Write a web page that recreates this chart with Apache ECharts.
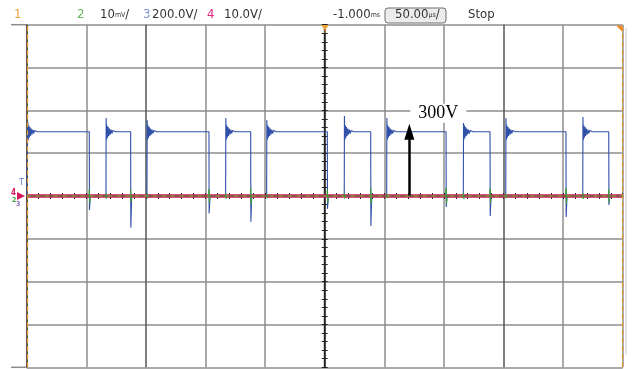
<!DOCTYPE html>
<html>
<head>
<meta charset="utf-8">
<script src="https://cdn.jsdelivr.net/npm/echarts@6/dist/echarts.min.js"></script>
<style>
  html, body { margin: 0; padding: 0; background: #fff; }
  #scope { width: 632px; height: 369px; }
</style>
</head>
<body>
<div id="scope"></div>
<script>
// Time base: 50 us/div over 10 divisions, centred on the trigger point.
const timeMin = -250, timeMax = 250, timeStep = 50;
// Vertical scale in channel-3 volts: 200 V/div over 8 divisions.
const voltMin = -800, voltMax = 800, voltStep = 200;

// Channel 3 (blue): switching voltage pulses.
const ch3High = 300;
const ch3RiseTimes = [-249.2, -183.5, -149.1, -83.1, -48.7, 16.4, 52.0, 116.3, 151.9, 216.5];
const ch3RisePeaks = [347, 364, 355, 364, 355, 374, 364, 341, 364, 369];
const ch3FallTimes = [-197.5, -162.8, -97.1, -62.1, 2.2, 38.6, 101.8, 138.7, 202.4, 238.3];
const ch3FallDips = [-65, -148, -82, -120, -60, -140, -51, -93, -98, -42];
// Ringing after each rising edge (delay in us, level in V).
const ringDelays = [0.5, 0.9, 1.4, 1.9, 2.4, 3.0, 3.6, 4.3, 5.0, 5.8, 6.8, 8.0];
const ringLevels = [262, 330, 272, 322, 280, 315, 287, 310, 292, 306, 297, 300];

// Channel 2 (green): small spikes at the switching edges.
const ch2SpikeTimes = [-197.5, -183.5, -162.8, -149.1, -97.1, -83.1, -62.1, -48.7, 2.2, 16.4,
                       38.6, 52.0, 101.8, 116.3, 138.7, 151.9, 202.4, 216.5, 238.3];
const ch2SpikeHeights = [30, 12, 28, 10, 32, 12, 38, 10, 30, 12,
                         34, 10, 36, 14, 34, 10, 36, 14, 30];

// Channels 1 and 4: flat traces on the centre line.
const ch4Times = [-250, 250];
const ch4Values = [0, 0];
const ch1Times = [-250, 250];
const ch1Values = [0, 0];

// Annotation arrow: amplitude of the pulses.
const arrowTime = 71;
const arrowVolts = 300;

// Header labels.
const headerItems = [
  { text: '1', x: 14, color: '#e9a53e' },
  { text: '2', x: 77, color: '#5fb85a' },
  { text: '10{u|mV}/', x: 100, color: '#333' },
  { text: '3', x: 143, color: '#8494d2' },
  { text: '200.0V/', x: 152, color: '#333' },
  { text: '4', x: 207, color: '#e0287c' },
  { text: '10.0V/', x: 224, color: '#333' },
  { text: '-1.000{u|ms}', x: 333, color: '#333' },
  { text: '50.00{u|\u00b5s}/', x: 395, color: '#333' },
  { text: 'Stop', x: 468, color: '#333' }
];

function buildCh3() {
  const pts = [[timeMin, 0]];
  for (let i = 0; i < ch3RiseTimes.length; i++) {
    const tr = ch3RiseTimes[i];
    pts.push([tr, 0], [tr + 0.15, ch3RisePeaks[i]]);
    for (let j = 0; j < ringDelays.length; j++) {
      pts.push([tr + ringDelays[j], ringLevels[j]]);
    }
    const tf = ch3FallTimes[i];
    pts.push([tf, ch3High], [tf + 0.15, ch3FallDips[i]], [tf + 0.9, 0]);
  }
  pts.push([timeMax, 0]);
  return pts;
}

function buildCh2() {
  const pts = [[timeMin, 0]];
  for (let i = 0; i < ch2SpikeTimes.length; i++) {
    const t = ch2SpikeTimes[i], h = ch2SpikeHeights[i];
    pts.push([t - 0.3, 0], [t, h], [t + 0.4, -h], [t + 0.8, 0]);
  }
  pts.push([timeMax, 0]);
  return pts;
}

const pair = (xs, ys) => xs.map((x, i) => [x, ys[i]]);

const gridGray = '#8e8e8e';
const narrowFont = "'Liberation Sans Narrow', 'Arial Narrow', 'DejaVu Sans Condensed', sans-serif";

const chart = echarts.init(document.getElementById('scope'), null, { renderer: 'canvas' });

const centreTicks = {
  axisLine: { onZero: true, lineStyle: { color: '#222', width: 1.2 } },
  axisTick: { show: true, length: 3, lineStyle: { color: '#222', width: 1 } },
  minorTick: { show: true, splitNumber: 5, length: 3, lineStyle: { color: '#222', width: 1 } },
  axisLabel: { show: false }
};

chart.setOption({
  animation: false,
  backgroundColor: '#fff',
  grid: { left: 26.7, right: 9.3, top: 24.7, bottom: 1.7, outerBoundsMode: 'none' },
  xAxis: [
    Object.assign({
      type: 'value', min: timeMin, max: timeMax, interval: timeStep, position: 'bottom',
      splitLine: { show: true, lineStyle: { width: 1.5, color: [
        '#222', gridGray, '#555', gridGray, gridGray, '#222', gridGray, gridGray, '#555', gridGray, gridGray
      ] } }
    }, centreTicks),
    Object.assign({
      type: 'value', min: timeMin, max: timeMax, interval: timeStep, position: 'top',
      splitLine: { show: false }
    }, centreTicks)
  ],
  yAxis: [
    Object.assign({
      type: 'value', min: voltMin, max: voltMax, interval: voltStep, position: 'left',
      splitLine: { show: true, lineStyle: { width: 1.5, color: gridGray } }
    }, centreTicks),
    Object.assign({
      type: 'value', min: voltMin, max: voltMax, interval: voltStep, position: 'right',
      splitLine: { show: false }
    }, centreTicks)
  ],
  series: [
    {
      name: 'CH3', type: 'line', xAxisIndex: 0, yAxisIndex: 0, showSymbol: false, z: 3,
      data: buildCh3(),
      lineStyle: { color: '#3151a8', width: 1.1 }
    },
    {
      name: 'CH4', type: 'line', xAxisIndex: 0, yAxisIndex: 0, showSymbol: false, z: 4,
      data: pair(ch4Times, ch4Values),
      lineStyle: { color: '#d0125a', width: 3.5 },
      markLine: {
        silent: true, z: 6,
        symbol: ['none', 'triangle'], symbolSize: [10, 16], symbolOffset: [0, 0],
        lineStyle: { color: '#000', width: 2.5, type: 'solid' },
        label: {
          show: true, position: 'end', formatter: () => arrowVolts + 'V',
          fontFamily: "'Liberation Serif', 'Times New Roman', serif", fontSize: 18, color: '#000',
          backgroundColor: '#fff', padding: [1, 8, 0, 8], offset: [29, -4]
        },
        data: [[{ coord: [arrowTime, 0] }, { coord: [arrowTime, arrowVolts] }]]
      }
    },
    {
      name: 'CH1', type: 'line', xAxisIndex: 0, yAxisIndex: 0, showSymbol: false, z: 5,
      data: pair(ch1Times, ch1Values),
      lineStyle: { color: '#f0a23c', width: 1, type: [4, 5] },
      markLine: {
        silent: true, symbol: 'none', label: { show: false },
        lineStyle: { color: '#e8962e', width: 1.2, type: [5, 3] },
        data: [{ xAxis: timeMin + 0.4 }, { xAxis: timeMax - 0.4 }]
      }
    },
    {
      name: 'CH2', type: 'line', xAxisIndex: 0, yAxisIndex: 0, showSymbol: false, z: 6,
      data: buildCh2(),
      lineStyle: { color: '#3e9d3a', width: 1 }
    }
  ],
  graphic: [
    // Outer frame lines extending left of the graticule
    { type: 'line', shape: { x1: 11, y1: 24.7, x2: 27, y2: 24.7 }, style: { stroke: gridGray, lineWidth: 1.5 }, silent: true },
    { type: 'line', shape: { x1: 11, y1: 367.3, x2: 27, y2: 367.3 }, style: { stroke: gridGray, lineWidth: 1.5 }, silent: true },
    { type: 'line', shape: { x1: 626, y1: 28, x2: 626, y2: 355 }, style: { stroke: '#c8c8c8', lineWidth: 1 }, silent: true },
    // Time-base box
    { type: 'rect', shape: { x: 385, y: 8, width: 61, height: 15, r: 3 },
      style: { fill: '#ececec', stroke: '#6e6e6e', lineWidth: 1 }, silent: true },
    // Trigger markers
    { type: 'polygon', shape: { points: [[321, 25], [329, 25], [325, 30]] }, style: { fill: '#f0a23c' }, silent: true, z: 10 },
    { type: 'line', shape: { x1: 325, y1: 28, x2: 325, y2: 33 }, style: { stroke: '#f0a23c', lineWidth: 1 }, silent: true, z: 10 },
    { type: 'polygon', shape: { points: [[616, 25.5], [622.5, 25.5], [622.5, 32]] }, style: { fill: '#ee8a2a' }, silent: true, z: 10 },
    // Ground reference markers on the left edge
    { type: 'text', x: 19, y: 178, style: { text: 'T', fill: '#5d7be0', font: '9px ' + narrowFont }, silent: true, z: 10 },
    { type: 'polygon', shape: { points: [[17, 192], [25, 196], [17, 200]] }, style: { fill: '#d4185e' }, silent: true, z: 10 },
    { type: 'text', x: 11, y: 189, style: { text: '4', fill: '#d4185e', font: 'bold 8px ' + narrowFont }, silent: true, z: 10 },
    { type: 'text', x: 12, y: 197, style: { text: '2', fill: '#3e9d3a', font: 'bold 7px ' + narrowFont }, silent: true, z: 10 },
    { type: 'text', x: 16, y: 201, style: { text: '3', fill: '#8a6fb0', font: 'bold 7px ' + narrowFont }, silent: true, z: 10 }
  ].concat(headerItems.map(h => ({
    type: 'text', x: h.x, y: 15, silent: true, z: 10,
    style: {
      text: h.text, fill: h.color, font: '13px ' + narrowFont, verticalAlign: 'middle',
      rich: { u: { fontSize: 7, fill: h.color, fontFamily: narrowFont, verticalAlign: 'middle' } }
    }
  })))
});
</script>
</body>
</html>
